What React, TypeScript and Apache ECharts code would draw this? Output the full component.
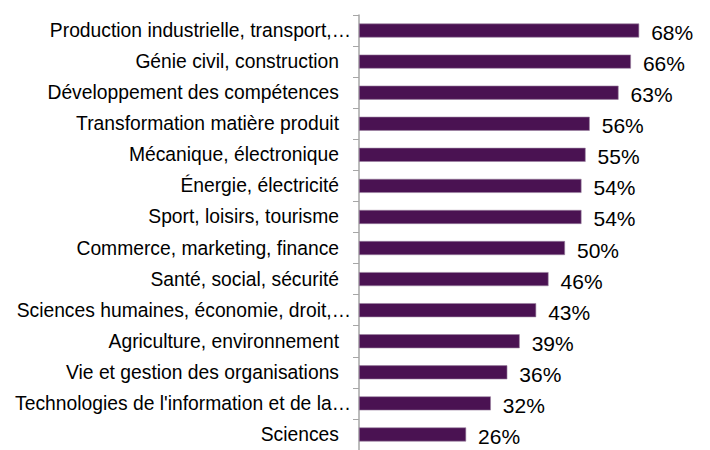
import React, { useEffect, useRef } from "react";
import * as echarts from "echarts";

const categories = [
  "Production industrielle, transport,…",
  "Génie civil, construction",
  "Développement des compétences",
  "Transformation matière produit",
  "Mécanique, électronique",
  "Énergie, électricité",
  "Sport, loisirs, tourisme",
  "Commerce, marketing, finance",
  "Santé, social, sécurité",
  "Sciences humaines, économie, droit,…",
  "Agriculture, environnement",
  "Vie et gestion des organisations",
  "Technologies de l'information et de la…",
  "Sciences",
];
const values = [68, 66, 63, 56, 55, 54, 54, 50, 46, 43, 39, 36, 32, 26];

export default function App() {
  const ref = useRef<HTMLDivElement>(null);
  useEffect(() => {
    document.body.style.margin = "0";
    if (!ref.current) return;
    const chart = echarts.init(ref.current, undefined, { renderer: "svg" });
    chart.setOption({
      animation: false,
      grid: { left: 359, top: 15, width: 329.6, height: 438, containLabel: false },
      xAxis: {
        type: "value",
        min: 0,
        max: 80,
        show: false,
      },
      yAxis: {
        type: "category",
        inverse: true,
        data: categories,
        axisLine: { show: true, lineStyle: { color: "#a6a6a6", width: 1.5 } },
        axisTick: { show: true, length: 6, lineStyle: { color: "#a6a6a6" } },
        axisLabel: {
          margin: 6,
          fontFamily: "Liberation Sans",
          fontSize: 19.3,
          color: "#000",
          formatter: (v: string) => (v.endsWith("…") ? `{a|${v}}` : `{b|${v}}`),
          rich: {
            a: { fontFamily: "Liberation Sans", fontSize: 19.3, color: "#000", padding: [0, 2, 0, 0] },
            b: { fontFamily: "Liberation Sans", fontSize: 19.3, color: "#000", padding: [0, 14, 0, 0] },
          },
        },
      },
      series: [
        {
          type: "bar",
          data: values,
          barWidth: 14,
          itemStyle: { color: "#4a1252", borderColor: "#9a82a0", borderWidth: 0.6 },
          label: {
            show: true,
            position: "right",
            distance: 12,
            offset: [0, 2],
            formatter: "{c}%",
            fontFamily: "Liberation Sans",
            fontSize: 21,
            color: "#000",
          },
        },
      ],
    });
    return () => chart.dispose();
  }, []);
  return <div ref={ref} style={{ width: 710, height: 450 }} />;
}
